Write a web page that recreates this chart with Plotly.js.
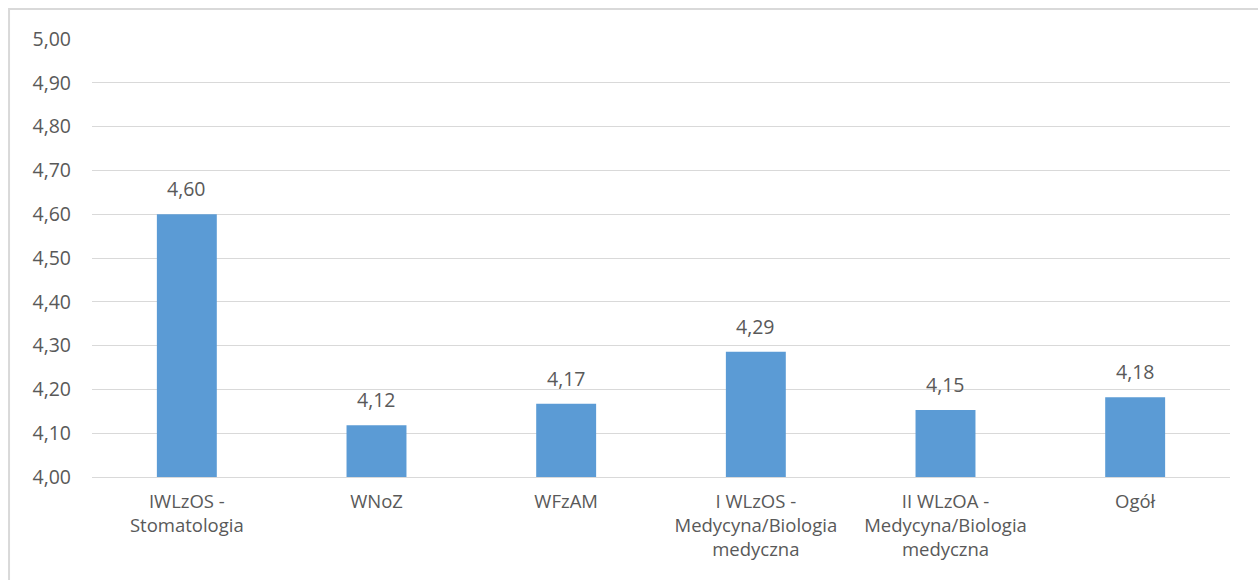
<!DOCTYPE html>
<html>
<head>
<meta charset="utf-8">
<script src="https://cdn.plot.ly/plotly-3.0.1.min.js"></script>
<style>
html,body{margin:0;padding:0;background:#fff;}
#chart{width:1258px;height:580px;}
</style>
</head>
<body>
<div id="chart"></div>
<script>
const categories = [
  "IWLzOS -<br>Stomatologia",
  "WNoZ",
  "WFzAM",
  "I WLzOS -<br>Medycyna/Biologia<br>medyczna",
  "II WLzOA -<br>Medycyna/Biologia<br>medyczna",
  "Ogół"
];
const values = [4.600, 4.118, 4.167, 4.286, 4.153, 4.182];
const valueLabels = ["4,60", "4,12", "4,17", "4,29", "4,15", "4,18"];
const yTickVals = [4.0, 4.1, 4.2, 4.3, 4.4, 4.5, 4.6, 4.7, 4.8, 4.9, 5.0];
const yTickText = ["4,00", "4,10", "4,20", "4,30", "4,40", "4,50", "4,60", "4,70", "4,80", "4,90", "5,00"];

const fontFam = "Open Sans, sans-serif";
const textColor = "#595959";

const trace = {
  type: "bar",
  x: categories,
  y: values,
  marker: {color: "#5B9BD5"},
  hoverinfo: "skip"
};

const annotations = categories.map((c, i) => ({
  x: c,
  y: values[i],
  xref: "x",
  yref: "y",
  text: valueLabels[i],
  showarrow: false,
  yanchor: "bottom",
  yshift: 10,
  font: {family: fontFam, size: 19.5, color: textColor}
}));

const layout = {
  width: 1258,
  height: 580,
  margin: {l: 92, r: 28, t: 39, b: 103},
  paper_bgcolor: "#ffffff",
  plot_bgcolor: "#ffffff",
  bargap: 0.684,
  showlegend: false,
  xaxis: {
    type: "category",
    showgrid: false,
    showline: true,
    linecolor: "#d9d9d9",
    linewidth: 1,
    ticks: "",
    ticklabelstandoff: 8,
    tickfont: {family: fontFam, size: 18.5, color: textColor},
    fixedrange: true
  },
  yaxis: {
    range: [4.0, 5.0],
    tickvals: yTickVals,
    ticktext: yTickText,
    showgrid: true,
    gridcolor: "#d9d9d9",
    gridwidth: 1,
    zeroline: false,
    showline: false,
    ticks: "",
    ticklabelstandoff: 20,
    tickfont: {family: fontFam, size: 19.5, color: textColor},
    fixedrange: true
  },
  annotations: annotations,
  shapes: [{
    type: "rect",
    xref: "paper",
    yref: "paper",
    x0: -0.0729,
    x1: 1.1,
    y0: -0.4,
    y1: 1.0685,
    line: {color: "#d9d9d9", width: 2},
    fillcolor: "rgba(0,0,0,0)",
    layer: "below"
  }]
};

Plotly.newPlot("chart", [trace], layout, {displayModeBar: false, staticPlot: true});
</script>
</body>
</html>
